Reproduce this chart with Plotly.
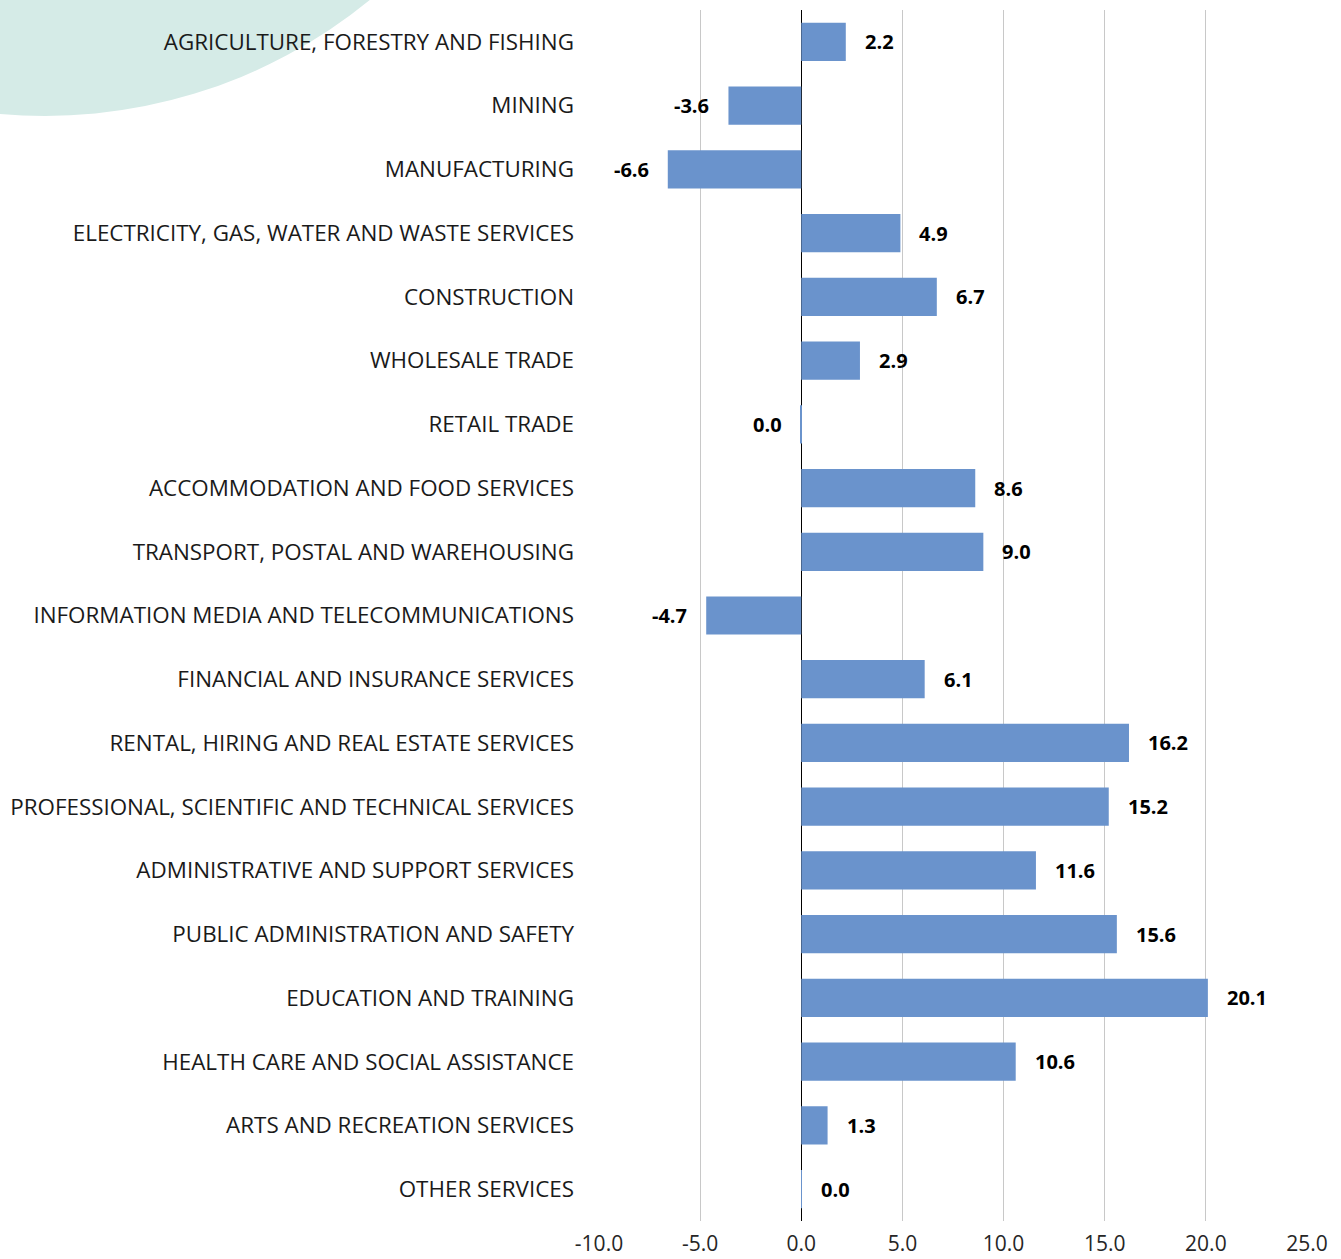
import plotly.graph_objects as go

industries = [
    "AGRICULTURE, FORESTRY AND FISHING",
    "MINING",
    "MANUFACTURING",
    "ELECTRICITY, GAS, WATER AND WASTE SERVICES",
    "CONSTRUCTION",
    "WHOLESALE TRADE",
    "RETAIL TRADE",
    "ACCOMMODATION AND FOOD SERVICES",
    "TRANSPORT, POSTAL AND WAREHOUSING",
    "INFORMATION MEDIA AND TELECOMMUNICATIONS",
    "FINANCIAL AND INSURANCE SERVICES",
    "RENTAL, HIRING AND REAL ESTATE SERVICES",
    "PROFESSIONAL, SCIENTIFIC AND TECHNICAL SERVICES",
    "ADMINISTRATIVE AND SUPPORT SERVICES",
    "PUBLIC ADMINISTRATION AND SAFETY",
    "EDUCATION AND TRAINING",
    "HEALTH CARE AND SOCIAL ASSISTANCE",
    "ARTS AND RECREATION SERVICES",
    "OTHER SERVICES",
]
change = [2.2, -3.6, -6.6, 4.9, 6.7, 2.9, -0.02, 8.6, 9.0, -4.7,
          6.1, 16.2, 15.2, 11.6, 15.6, 20.1, 10.6, 1.3, 0.02]
x_ticks = [-10, -5, 0, 5, 10, 15, 20, 25]

BAR = "#6A93CC"
FONT = "Open Sans, Noto Sans, sans-serif"

fig = go.Figure()
fig.add_trace(go.Bar(
    x=change,
    y=industries,
    orientation="h",
    marker=dict(color=BAR, line=dict(width=0)),
    width=0.6,
    hoverinfo="x+y",
))

# value labels placed outside the bar ends
for name, v in zip(industries, change):
    fig.add_annotation(
        x=v, y=name,
        text=f"<b>{abs(v) if abs(v) < 0.05 else v:.1f}</b>",
        showarrow=False,
        xanchor="left" if v >= 0 else "right",
        xshift=17 if v >= 0 else -17,
        font=dict(family=FONT, size=20, color="#000000"),
    )

# decorative circle in the top-left corner
fig.add_shape(
    type="circle", xref="paper", yref="paper",
    x0=-1.507, x1=-0.058, y0=0.9125, y1=1.760,
    fillcolor="#D5EBE7", line=dict(width=0), layer="below",
)

fig.update_layout(
    width=1341, height=1259,
    margin=dict(l=599, r=34, t=10, b=38),
    plot_bgcolor="white", paper_bgcolor="white",
    showlegend=False,
    bargap=0.4,
    xaxis=dict(
        range=[-10, 25],
        tickvals=x_ticks,
        ticktext=[f"{t:.1f}" for t in x_ticks],
        showgrid=True, gridcolor="#C8C8C8", gridwidth=1,
        zeroline=True, zerolinecolor="#000000", zerolinewidth=1,
        showline=False,
        tickfont=dict(family=FONT, size=21, color="#262626"),
        ticks="",
        ticklabelstandoff=8,
        automargin=False,
    ),
    yaxis=dict(
        autorange="reversed",
        showgrid=False, zeroline=False, showline=False,
        tickfont=dict(family=FONT, size=22.4, color="#1A1A1A"),
        ticks="",
        ticklabelstandoff=24,
        automargin=False,
    ),
)

fig.write_html("out.html", config={"displayModeBar": False},
               post_script="document.body.style.margin='0';")
